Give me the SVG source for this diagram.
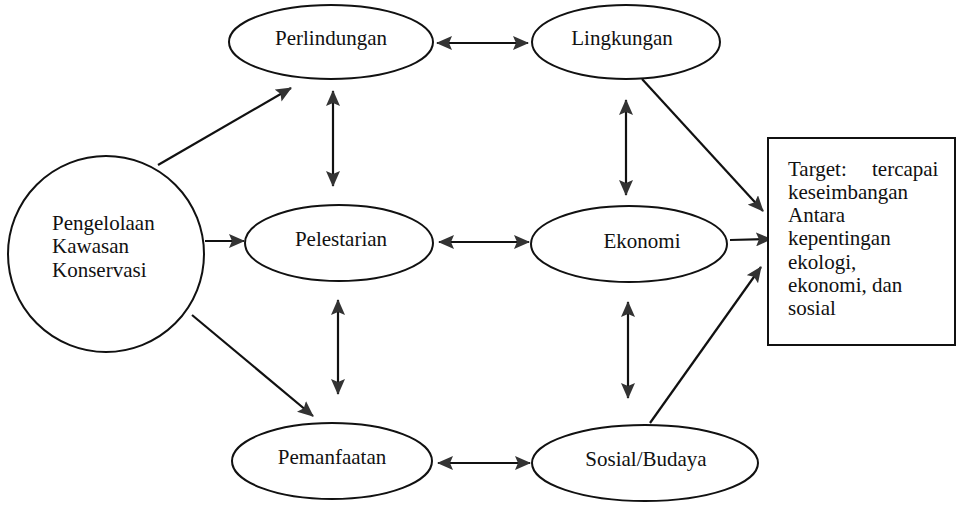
<svg xmlns="http://www.w3.org/2000/svg" width="958" height="508" viewBox="0 0 958 508">
<style>
.n{fill:#fff;stroke:#111;stroke-width:2}
text{font-family:'Liberation Serif','DejaVu Serif',serif;font-size:21px;fill:#111}
.c{text-anchor:middle}
.e{fill:none;stroke:#111;stroke-width:2.2}
</style>
<defs>
<marker id="ah" viewBox="0 0 16 14" refX="15" refY="7" markerWidth="16" markerHeight="14" markerUnits="userSpaceOnUse" orient="auto-start-reverse">
<path d="M0,0 L16,7 L0,14 L3,7 Z" fill="#333"/>
</marker>
</defs>
<rect width="958" height="508" fill="#fff"/>
<g id="connectors">
<line class="e" x1="158" y1="165" x2="291" y2="88" marker-end="url(#ah)"/>
<line class="e" x1="205" y1="241" x2="244" y2="241" marker-end="url(#ah)"/>
<line class="e" x1="192" y1="315" x2="313" y2="416" marker-end="url(#ah)"/>
<line class="e" x1="437" y1="43" x2="528" y2="43" marker-start="url(#ah)" marker-end="url(#ah)"/>
<line class="e" x1="333" y1="91" x2="333" y2="186" marker-start="url(#ah)" marker-end="url(#ah)"/>
<line class="e" x1="439" y1="242" x2="529" y2="242" marker-start="url(#ah)" marker-end="url(#ah)"/>
<line class="e" x1="626" y1="100" x2="626" y2="195" marker-start="url(#ah)" marker-end="url(#ah)"/>
<line class="e" x1="338" y1="300" x2="338" y2="394" marker-start="url(#ah)" marker-end="url(#ah)"/>
<line class="e" x1="628" y1="302" x2="628" y2="398" marker-start="url(#ah)" marker-end="url(#ah)"/>
<line class="e" x1="438" y1="463" x2="530" y2="463" marker-start="url(#ah)" marker-end="url(#ah)"/>
<line class="e" x1="642" y1="79" x2="763" y2="211" marker-end="url(#ah)"/>
<line class="e" x1="730" y1="240" x2="771" y2="239" marker-end="url(#ah)"/>
<line class="e" x1="650" y1="423" x2="761" y2="267" marker-end="url(#ah)"/>
</g>
<g id="pengelolaan">
<circle class="n" cx="106" cy="254" r="98"/>
<text x="52" y="230">Pengelolaan</text>
<text x="52" y="253">Kawasan</text>
<text x="52" y="277">Konservasi</text>
</g>
<g id="perlindungan">
<ellipse class="n" cx="331" cy="42" rx="102" ry="37"/>
<text class="c" x="331" y="45">Perlindungan</text>
</g>
<g id="lingkungan">
<ellipse class="n" cx="626" cy="42" rx="94" ry="37"/>
<text class="c" x="622" y="45">Lingkungan</text>
</g>
<g id="pelestarian">
<ellipse class="n" cx="339" cy="243" rx="94" ry="38"/>
<text class="c" x="341" y="246">Pelestarian</text>
</g>
<g id="ekonomi">
<ellipse class="n" cx="629" cy="244" rx="98" ry="38"/>
<text class="c" x="642" y="248">Ekonomi</text>
</g>
<g id="pemanfaatan">
<ellipse class="n" cx="332" cy="461" rx="100" ry="38"/>
<text class="c" x="332" y="464">Pemanfaatan</text>
</g>
<g id="sosial">
<ellipse class="n" cx="645" cy="463" rx="113" ry="38"/>
<text class="c" x="646" y="466">Sosial/Budaya</text>
</g>
<g id="target">
<rect class="n" x="768" y="138" width="187" height="207"/>
<text x="788" y="176">Target:<tspan x="872">tercapai</tspan></text>
<text x="788" y="199">keseimbangan</text>
<text x="788" y="222">Antara</text>
<text x="788" y="245">kepentingan</text>
<text x="788" y="269">ekologi,</text>
<text x="788" y="292">ekonomi, dan</text>
<text x="788" y="315">sosial</text>
</g>
</svg>
